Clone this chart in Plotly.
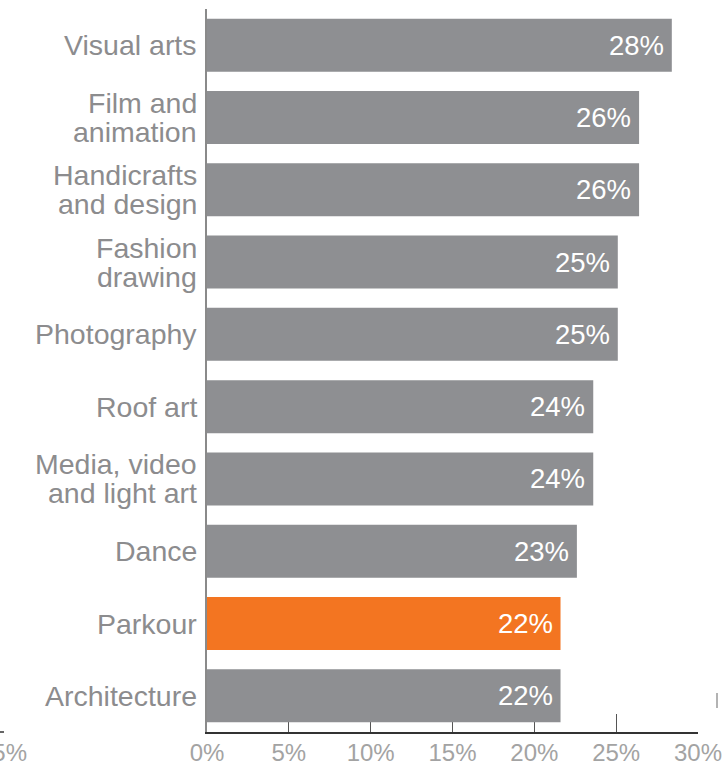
import plotly.graph_objects as go

# Share of respondents by art form (%)
categories = [
    "Visual arts",
    "Film and animation",
    "Handicrafts and design",
    "Fashion drawing",
    "Photography",
    "Roof art",
    "Media, video and light art",
    "Dance",
    "Parkour",
    "Architecture",
]
label_lines = [
    ["Visual arts"],
    ["Film and", "animation"],
    ["Handicrafts", "and design"],
    ["Fashion", "drawing"],
    ["Photography"],
    ["Roof art"],
    ["Media, video", "and light art"],
    ["Dance"],
    ["Parkour"],
    ["Architecture"],
]
shares = [28.4, 26.4, 26.4, 25.1, 25.1, 23.6, 23.6, 22.6, 21.6, 21.6]
highlight = "Parkour"

x_tick_vals = [0, 5, 10, 15, 20, 25, 30]
x_tick_text = ["0%", "5%", "10%", "15%", "20%", "25%", "30%"]

GREY_BAR = "#8e8f92"
ORANGE = "#f37521"
FONT = "Liberation Sans, Arial, sans-serif"

colors = [ORANGE if c == highlight else GREY_BAR for c in categories]

fig = go.Figure(
    go.Bar(
        x=shares,
        y=categories,
        orientation="h",
        marker=dict(color=colors, line=dict(width=0)),
        hoverinfo="skip",
    )
)

annotations = []
# category labels, one annotation per text line for tight line spacing
for cat, lines in zip(categories, label_lines):
    n = len(lines)
    for i, line in enumerate(lines):
        offset = ((n - 1) / 2 - i) * 29
        annotations.append(
            dict(
                x=0, xref="paper", y=cat, yref="y",
                text=line, showarrow=False,
                xanchor="right", yanchor="middle",
                xshift=-8, yshift=offset,
                font=dict(family=FONT, size=28.5, color="#8c8c8e"),
            )
        )

# value labels inside the bar ends
for cat, v in zip(categories, shares):
    annotations.append(
        dict(
            x=v, xref="x", y=cat, yref="y",
            text=f"{v:.0f}%", showarrow=False,
            xanchor="right", yanchor="middle",
            xshift=-6, yshift=0,
            font=dict(family=FONT, size=27.5, color="#ffffff"),
        )
    )

# edge of the neighbouring panel's axis label
annotations.append(
    dict(
        x=0, xref="paper", y=0, yref="paper",
        text="25%", showarrow=False,
        xanchor="right", yanchor="top",
        xshift=-178, yshift=-5,
        font=dict(family=FONT, size=24, color="#a3a3a3"),
    )
)

shapes = [
    # stub of the neighbouring panel's baseline
    dict(type="line", xref="paper", yref="paper",
         x0=-207 / 491, x1=-203 / 491, y0=0, y1=0,
         line=dict(color="#333333", width=1.5)),
    # small mark at the right edge
    dict(type="line", xref="paper", yref="paper",
         x0=(717 - 207) / 491, x1=(717 - 207) / 491,
         y0=24 / 723, y1=39 / 723,
         line=dict(color="#9a9a9a", width=1.5)),
]

fig.update_layout(
    width=722,
    height=766,
    margin=dict(l=207, r=24, t=9, b=34, autoexpand=False),
    paper_bgcolor="white",
    plot_bgcolor="white",
    bargap=0.267,
    showlegend=False,
    annotations=annotations,
    shapes=shapes,
    font=dict(family=FONT),
)

fig.update_xaxes(
    range=[0, 30],
    tickvals=x_tick_vals,
    ticktext=x_tick_text,
    ticks="inside",
    ticklen=18,
    tickwidth=1.2,
    tickcolor="#555555",
    showline=True,
    linecolor="#333333",
    linewidth=1.5,
    showgrid=False,
    zeroline=False,
    layer="below traces",
    automargin=False,
    ticklabeloverflow="allow",
    ticklabelstandoff=-2,
    tickfont=dict(family=FONT, size=24, color="#a3a3a3"),
    fixedrange=True,
)

fig.update_yaxes(
    autorange="reversed",
    showticklabels=False,
    ticks="",
    showline=True,
    linecolor="#8a8a8a",
    linewidth=1.5,
    showgrid=False,
    zeroline=False,
    automargin=False,
    fixedrange=True,
)

fig.write_html("out.html")
